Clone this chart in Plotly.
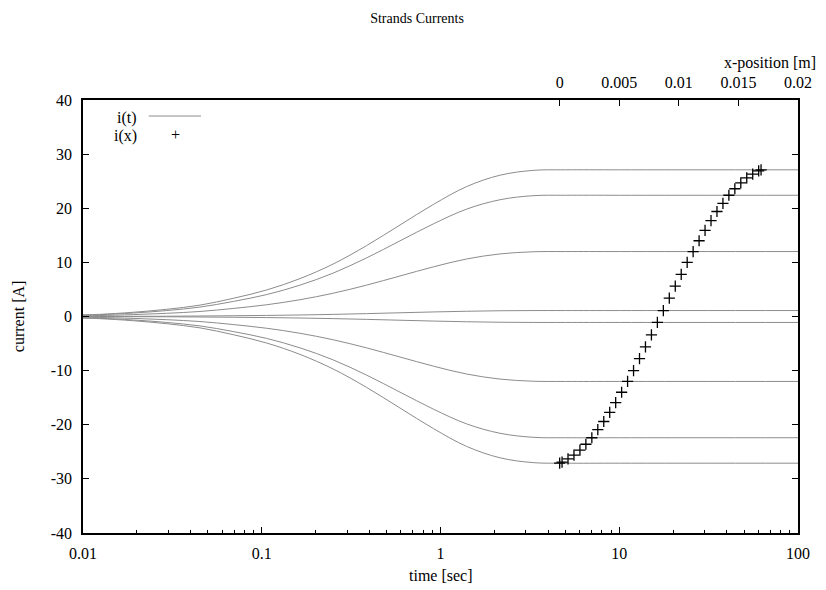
import plotly.graph_objects as go

# ---- data ----
t_sec = [0.01, 0.0124, 0.0191, 0.0294, 0.0451, 0.0693, 0.1065, 0.1636, 0.251, 0.386,
         0.593, 0.912, 1.40, 2.15, 3.3, 5.0, 10.0, 100.0]
i_s1 = [0.3, 0.4, 0.78, 1.33, 2.1, 3.36, 4.9, 7.0, 9.7, 13.1, 16.9, 20.7, 24.0, 26.1, 27.0, 27.1, 27.1, 27.1]
i_s2 = [0.25, 0.33, 0.64, 1.1, 1.74, 2.78, 4.05, 5.79, 8.02, 10.83, 13.97, 17.11, 19.84, 21.57, 22.32, 22.4, 22.4, 22.4]
i_s3 = [0.13, 0.18, 0.35, 0.59, 0.93, 1.49, 2.17, 3.1, 4.3, 5.8, 7.48, 9.17, 10.63, 11.56, 11.96, 12.0, 12.0, 12.0]
i_s4 = [0.01, 0.02, 0.03, 0.05, 0.09, 0.14, 0.2, 0.28, 0.39, 0.53, 0.69, 0.84, 0.97, 1.06, 1.1, 1.1, 1.1, 1.1]
i_s5 = [-0.01, -0.02, -0.03, -0.05, -0.09, -0.14, -0.2, -0.28, -0.39, -0.53, -0.69, -0.84, -0.97, -1.06, -1.1, -1.1, -1.1, -1.1]
i_s6 = [-0.13, -0.18, -0.35, -0.59, -0.93, -1.49, -2.17, -3.1, -4.3, -5.8, -7.48, -9.17, -10.63, -11.56, -11.96, -12.0, -12.0, -12.0]
i_s7 = [-0.25, -0.33, -0.64, -1.1, -1.74, -2.78, -4.05, -5.79, -8.02, -10.83, -13.97, -17.11, -19.84, -21.57, -22.32, -22.4, -22.4, -22.4]
i_s8 = [-0.3, -0.4, -0.78, -1.33, -2.1, -3.36, -4.9, -7.0, -9.7, -13.1, -16.9, -20.7, -24.0, -26.1, -27.0, -27.1, -27.1, -27.1]

x_pos = [0.0, 0.0002, 0.0007, 0.0012, 0.0017, 0.0022, 0.0027, 0.0032, 0.0037, 0.0042,
         0.0047, 0.0052, 0.0057, 0.0062, 0.0067, 0.0072, 0.0077, 0.0082, 0.0087, 0.0092,
         0.0097, 0.0102, 0.0107, 0.0112, 0.0117, 0.0122, 0.0127, 0.0132, 0.0137, 0.0142,
         0.0147, 0.0152, 0.0157, 0.0162, 0.0167, 0.0169]
i_x = [-27.1, -26.9, -26.3, -25.6, -24.7, -23.6, -22.4, -20.9, -19.4, -17.7,
       -15.9, -14.0, -12.0, -10.0, -7.8, -5.6, -3.4, -1.1, 1.1, 3.4,
       5.6, 7.8, 10.0, 12.0, 14.0, 15.9, 17.7, 19.4, 20.9, 22.4,
       23.6, 24.7, 25.6, 26.3, 26.9, 27.1]

x_ticks = [0.01, 0.1, 1, 10, 100]
x_ticklabels = ["0.01", "0.1", "1", "10", "100"]
x2_ticks = [0, 0.005, 0.01, 0.015, 0.02]
x2_ticklabels = ["0", "0.005", "0.01", "0.015", "0.02"]
y_ticks = [-40, -30, -20, -10, 0, 10, 20, 30, 40]
y_ticklabels = ["-40", "-30", "-20", "-10", "0", "10", "20", "30", "40"]

FONT = "Liberation Serif"
GRAY = "#8c8c8c"

fig = go.Figure()
for s in [i_s1, i_s2, i_s3, i_s4, i_s5, i_s6, i_s7, i_s8]:
    fig.add_trace(go.Scatter(x=t_sec, y=s, mode="lines", line=dict(color=GRAY, width=1, shape="spline"),
                             showlegend=False, xaxis="x", yaxis="y"))
fig.add_trace(go.Scatter(x=x_pos, y=i_x, mode="markers", xaxis="x2", yaxis="y",
                         marker=dict(symbol="cross-thin", size=8, line=dict(color="black", width=1.3)),
                         showlegend=False))

minor_vals = []
for dec in [0.01, 0.1, 1, 10]:
    for k in range(2, 10):
        minor_vals.append(dec * k)

fig.update_layout(
    width=818, height=582,
    margin=dict(l=75, r=28, t=92, b=57),
    paper_bgcolor="white", plot_bgcolor="white",
    font=dict(family=FONT, size=16, color="black"),
    title=dict(text="Strands Currents", x=0.5, xanchor="center", y=0.983, yanchor="middle",
               font=dict(family=FONT, size=14)),
    xaxis=dict(type="log", range=[-2, 2], tickvals=x_ticks, ticktext=x_ticklabels,
               ticks="inside", ticklen=6, tickwidth=1, tickcolor="black", ticklabelstandoff=5,
               showline=True, linecolor="black", linewidth=1.5, mirror=False,
               showgrid=False, zeroline=False,
               minor=dict(tickvals=minor_vals, ticks="inside", ticklen=3, tickcolor="black", showgrid=False)),
    xaxis2=dict(overlaying="x", side="top", range=[-0.04, 0.02], tickvals=x2_ticks, ticktext=x2_ticklabels,
                ticks="inside", ticklen=6, tickcolor="black", ticklabelstandoff=4,
                showline=True, linecolor="black", linewidth=1.5, showgrid=False, zeroline=False),
    yaxis=dict(range=[-40, 40], tickvals=y_ticks, ticktext=y_ticklabels, ticks="inside", ticklen=6,
               tickcolor="black", ticklabelstandoff=6,
               showline=True, linecolor="black", linewidth=1.5, mirror="ticks",
               showgrid=False, zeroline=False),
    annotations=[
        dict(text="time [sec]", xref="paper", yref="paper", x=0.5, y=-0.097, xanchor="center", yanchor="middle",
             showarrow=False, font=dict(size=16)),
        dict(text="current [A]", xref="paper", yref="paper", x=-0.09, y=0.5, textangle=-90,
             xanchor="center", yanchor="middle", showarrow=False, font=dict(size=16)),
        dict(text="x-position [m]", xref="paper", yref="paper", x=0.961, y=1.085, xanchor="center",
             yanchor="middle", showarrow=False, font=dict(size=16)),
        dict(text="i(t)", xref="paper", yref="paper", x=0.079, y=0.958, xanchor="right", yanchor="middle",
             showarrow=False, font=dict(size=16)),
        dict(text="i(x)", xref="paper", yref="paper", x=0.079, y=0.917, xanchor="right", yanchor="middle",
             showarrow=False, font=dict(size=16)),
        dict(text="+", xref="paper", yref="paper", x=0.129, y=0.92, xanchor="center", yanchor="middle",
             showarrow=False, font=dict(size=16)),
    ],
    shapes=[
        dict(type="line", xref="paper", yref="paper", x0=0.092, x1=0.165, y0=0.963, y1=0.963,
             line=dict(color=GRAY, width=1)),
    ],
)

fig.write_html("out.html")
